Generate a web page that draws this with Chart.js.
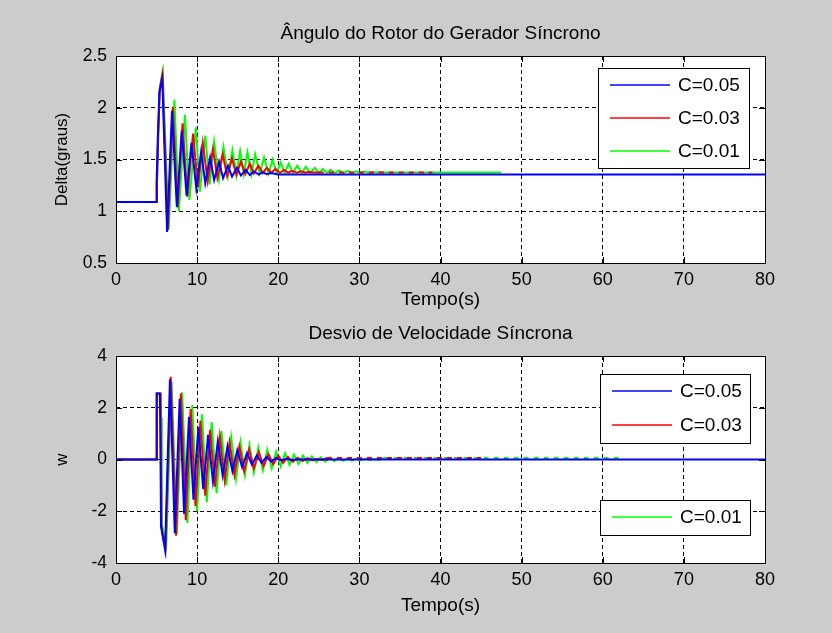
<!DOCTYPE html>
<html>
<head>
<meta charset="utf-8">
<script src="https://cdn.jsdelivr.net/npm/chart.js@4.4.1/dist/chart.umd.min.js"></script>
<style>
  html, body { margin: 0; padding: 0; background: #cccccc; }
  .panel { position: absolute; left: 0; width: 832px; }
  #topPanel { top: 0; height: 316px; }
  #botPanel { top: 316px; height: 317px; }
</style>
</head>
<body>
<div class="panel" id="topPanel"><canvas id="deltaChart" width="832" height="316"></canvas></div>
<div class="panel" id="botPanel"><canvas id="speedChart" width="832" height="317"></canvas></div>
<script>
'use strict';

/* ── Data ── */
const seriesLabels = ['C=0.05', 'C=0.03', 'C=0.01'];
const xTicks       = [0, 10, 20, 30, 40, 50, 60, 70, 80];
const deltaTicks   = [0.5, 1, 1.5, 2, 2.5];
const speedTicks   = [-4, -2, 0, 2, 4];

// Rotor angle (graus) — C=0.05
const deltaBlueT = [0, 4.95, 5.0, 5.15, 5.35, 5.7, 6.3, 6.9, 7.5, 8.1, 8.7, 9.3, 9.9, 10.5, 11.0, 11.6, 12.1, 12.7, 13.2, 13.8, 14.3, 14.9, 15.4, 16.0, 16.5, 17.0, 17.6, 18.1, 18.6, 19.1, 20.0, 80];
const deltaBlueV = [1.09, 1.09, 1.27, 1.70, 2.15, 2.28, 0.80, 1.97, 1.04, 1.78, 1.15, 1.66, 1.22, 1.58, 1.27, 1.52, 1.30, 1.48, 1.32, 1.44, 1.335, 1.42, 1.345, 1.40, 1.35, 1.385, 1.355, 1.375, 1.358, 1.37, 1.356, 1.355];

// Rotor angle — C=0.03
const deltaRedT = [0, 5.0, 5.05, 5.2, 5.4, 5.72, 6.4, 7.0, 7.6, 8.2, 8.8, 9.5, 10.1, 10.7, 11.3, 11.95, 12.5, 13.15, 13.7, 14.3, 14.85, 15.4, 15.95, 16.5, 17.0, 17.55, 18.1, 18.6, 19.15, 19.65, 20.2, 20.7, 21.25, 21.7, 22.3, 22.8, 23.3, 23.8, 24.4, 25.0, 39.0];
const deltaRedV = [1.09, 1.09, 1.27, 1.72, 2.18, 2.32, 0.82, 2.01, 1.04, 1.85, 1.14, 1.75, 1.23, 1.66, 1.29, 1.60, 1.32, 1.55, 1.34, 1.51, 1.35, 1.48, 1.36, 1.46, 1.365, 1.44, 1.37, 1.42, 1.37, 1.41, 1.37, 1.40, 1.372, 1.39, 1.373, 1.385, 1.374, 1.38, 1.375, 1.375, 1.375];

// Rotor angle — C=0.01
const deltaGreenT = [0, 5.0, 5.05, 5.2, 5.4, 5.75, 6.5, 7.2, 7.75, 8.5, 9.05, 9.85, 10.35, 11.0, 11.55, 12.1, 12.7, 13.25, 13.8, 14.35, 14.85, 15.3, 15.75, 16.2, 16.7, 17.15, 17.7, 18.25, 18.8, 19.3, 19.8, 20.3, 20.8, 21.3, 21.8, 22.35, 22.9, 23.4, 23.95, 24.5, 25.0, 25.5, 26.0, 26.45, 27.0, 27.5, 28.05, 28.6, 29.1, 29.6, 30.1, 30.6, 31.1, 31.6, 32.1, 32.6, 33.1, 47.5];
const deltaGreenV = [1.09, 1.09, 1.27, 1.72, 2.2, 2.35, 0.83, 2.08, 1.0, 1.93, 1.11, 1.81, 1.19, 1.73, 1.26, 1.67, 1.31, 1.62, 1.34, 1.59, 1.35, 1.58, 1.36, 1.57, 1.36, 1.55, 1.365, 1.52, 1.365, 1.50, 1.37, 1.47, 1.37, 1.46, 1.37, 1.44, 1.37, 1.43, 1.37, 1.42, 1.37, 1.41, 1.37, 1.40, 1.37, 1.395, 1.37, 1.39, 1.37, 1.385, 1.372, 1.383, 1.373, 1.38, 1.374, 1.378, 1.375, 1.375];

// Speed deviation w — C=0.05
const speedBlueT = [0, 4.95, 5.0, 5.4, 5.45, 5.55, 6.05, 6.65, 7.25, 7.85, 8.4, 9.0, 9.55, 10.15, 10.75, 11.35, 11.95, 12.55, 13.15, 13.75, 14.35, 14.95, 15.55, 16.15, 16.75, 17.35, 17.95, 18.55, 19.15, 19.75, 20.35, 21.0, 21.6, 22.2, 80];
const speedBlueV = [0, 0, 2.55, 2.55, 1.6, -2.6, -3.5, 3.1, -2.85, 2.35, -2.1, 1.65, -1.55, 1.25, -1.15, 0.95, -0.85, 0.7, -0.62, 0.52, -0.45, 0.36, -0.3, 0.25, -0.2, 0.16, -0.13, 0.1, -0.08, 0.06, -0.04, 0.03, -0.02, 0, 0];

// Speed deviation — C=0.03
const speedRedT = [0, 5.0, 5.05, 5.45, 5.5, 5.6, 6.1, 6.75, 7.4, 8.0, 8.6, 9.2, 9.8, 10.4, 11.0, 11.6, 12.2, 12.8, 13.4, 14.0, 14.6, 15.2, 15.8, 16.4, 17.0, 17.6, 18.2, 18.8, 19.4, 20.0, 20.6, 21.2, 21.8, 22.4, 23.0, 23.6, 24.2, 24.8, 25.4, 26.0, 45.0];
const speedRedV = [0, 0, 2.55, 2.55, 1.6, -2.6, -3.45, 3.2, -2.95, 2.55, -2.35, 1.95, -1.8, 1.5, -1.4, 1.15, -1.05, 0.88, -0.8, 0.66, -0.6, 0.5, -0.45, 0.38, -0.34, 0.28, -0.25, 0.2, -0.18, 0.15, -0.13, 0.1, -0.09, 0.07, -0.06, 0.05, -0.04, 0.03, -0.03, 0.06, 0.06];

// Speed deviation — C=0.01
const speedGreenT = [0, 5.0, 5.05, 5.5, 5.55, 5.65, 6.2, 6.85, 7.5, 8.15, 8.8, 9.4, 10.0, 10.6, 11.2, 11.8, 12.4, 13.0, 13.6, 14.2, 14.8, 15.35, 15.9, 16.45, 17.0, 17.55, 18.1, 18.65, 19.2, 19.75, 20.3, 20.85, 21.4, 21.95, 22.5, 23.05, 23.6, 24.15, 24.7, 25.25, 25.8, 26.35, 26.9, 27.45, 28.0, 28.55, 29.1, 29.65, 30.2, 30.75, 31.3, 31.85, 32.4, 33.0, 62.5];
const speedGreenV = [0, 0, 2.55, 2.55, 1.6, -2.5, -3.3, 3.0, -2.9, 2.6, -2.45, 2.1, -2.0, 1.75, -1.65, 1.45, -1.3, 1.1, -1.0, 0.85, -0.75, 0.66, -0.6, 0.55, -0.5, 0.46, -0.42, 0.38, -0.34, 0.3, -0.27, 0.24, -0.21, 0.19, -0.17, 0.15, -0.13, 0.12, -0.1, 0.09, -0.08, 0.07, -0.06, 0.055, -0.05, 0.045, -0.04, 0.035, -0.03, 0.03, -0.02, 0.02, -0.02, 0.06, 0.06];

/* ── Styling helpers ── */
const colors = ['#0000ff', '#ff0000', '#00ff00'];
const FONT = 'Liberation Sans, Arial, sans-serif';

function points(ts, vs) {
    return ts.map(function (t, i) { return { x: t, y: vs[i] }; });
}

// Settled tails look like a dotted trace in the original
function tailDash(from) {
    return { borderDash: function (ctx) { return ctx.p0.parsed.x >= from ? [5, 5] : undefined; } };
}

function dataset(i, ts, vs, tailFrom) {
    return {
        label: seriesLabels[i],
        data: points(ts, vs),
        borderColor: colors[i],
        borderWidth: 2,
        pointRadius: 0,
        tension: 0,
        fill: false,
        segment: tailFrom ? tailDash(tailFrom) : undefined
    };
}

// White plot area, box frame, inward ticks and MATLAB-style legend boxes
const matlabAxes = {
    id: 'matlabAxes',
    beforeDatasetsDraw(chart) {
        const a = chart.chartArea, c = chart.ctx;
        c.save();
        c.fillStyle = '#ffffff';
        c.fillRect(a.left, a.top, a.right - a.left, a.bottom - a.top);
        c.restore();
        // redraw grid on top of the white fill
        chart.scales.x.drawGrid(a);
        chart.scales.y.drawGrid(a);
    },
    afterDatasetsDraw(chart, args, opts) {
        const a = chart.chartArea, c = chart.ctx;
        const sx = chart.scales.x, sy = chart.scales.y;
        c.save();
        c.strokeStyle = '#000';
        c.lineWidth = 1;
        c.beginPath();
        sx.ticks.forEach(function (t) {
            const px = Math.round(sx.getPixelForValue(t.value)) + 0.5;
            c.moveTo(px, a.bottom); c.lineTo(px, a.bottom - 6);
            c.moveTo(px, a.top); c.lineTo(px, a.top + 6);
        });
        sy.ticks.forEach(function (t) {
            const py = Math.round(sy.getPixelForValue(t.value)) + 0.5;
            c.moveTo(a.left, py); c.lineTo(a.left + 6, py);
            c.moveTo(a.right, py); c.lineTo(a.right - 6, py);
        });
        c.stroke();
        c.strokeRect(Math.round(a.left) + 0.5, Math.round(a.top) + 0.5,
                     Math.round(a.right - a.left), Math.round(a.bottom - a.top));

        (opts.boxes || []).forEach(function (b) {
            c.fillStyle = '#ffffff';
            c.fillRect(b.x, b.y, b.w, b.h);
            c.strokeStyle = '#000';
            c.lineWidth = 1;
            c.strokeRect(b.x + 0.5, b.y + 0.5, b.w, b.h);
            b.items.forEach(function (idx, k) {
                const ry = b.rows[k];
                c.strokeStyle = colors[idx];
                c.lineWidth = 1.5;
                c.beginPath();
                c.moveTo(b.x + 12, ry); c.lineTo(b.x + 72, ry);
                c.stroke();
                c.fillStyle = '#000';
                c.font = '19px ' + FONT;
                c.textBaseline = 'middle';
                c.textAlign = 'left';
                c.fillText(seriesLabels[idx], b.x + 80, ry + 1);
            });
        });
        c.restore();
    }
};

function makeChart(canvasId, cfg) {
    const canvas = document.getElementById(canvasId);
    const H = canvas.height;
    return new Chart(canvas, {
        type: 'line',
        data: { datasets: cfg.datasets },
        options: {
            responsive: false,
            devicePixelRatio: 1,
            animation: false,
            layout: { padding: { left: 0, right: 67, top: 0, bottom: 0 }, autoPadding: false },
            plugins: {
                legend: { display: false },
                tooltip: { enabled: false },
                title: {
                    display: true,
                    fullSize: false,
                    text: cfg.title,
                    color: '#000',
                    font: { family: FONT, size: 19, weight: 'normal', lineHeight: 1.2 },
                    padding: { top: cfg.titlePadTop, bottom: cfg.titlePadBottom }
                },
                matlabAxes: { boxes: cfg.boxes }
            },
            scales: {
                x: {
                    type: 'linear',
                    min: 0, max: 80,
                    afterBuildTicks: function (s) { s.ticks = xTicks.map(function (v) { return { value: v }; }); },
                    afterFit: function (s) { s.height = H - cfg.plotBottom; },
                    grid: { color: '#000', lineWidth: 1, drawTicks: false },
                    border: { display: false, dash: [4, 3] },
                    ticks: {
                        color: '#000', font: { family: FONT, size: 18 }, padding: 6, maxRotation: 0,
                        callback: function (v) { return String(v); }
                    },
                    title: {
                        display: true, text: 'Tempo(s)', color: '#000',
                        font: { family: FONT, size: 19, lineHeight: 1.2 },
                        padding: { top: 0, bottom: cfg.xTitlePadBottom }
                    }
                },
                y: {
                    min: cfg.yMin, max: cfg.yMax,
                    afterBuildTicks: function (s) { s.ticks = cfg.yTicks.map(function (v) { return { value: v }; }); },
                    afterFit: function (s) { s.width = 116; },
                    grid: { color: '#000', lineWidth: 1, drawTicks: false },
                    border: { display: false, dash: [4, 3] },
                    ticks: {
                        color: '#000', font: { family: FONT, size: 17.5 }, padding: 9,
                        callback: function (v) { return String(v); }
                    },
                    title: {
                        display: true, text: cfg.yTitle, color: '#000',
                        font: { family: FONT, size: 17, lineHeight: 1.2 },
                        padding: { top: 52, bottom: 0 }
                    }
                }
            }
        },
        plugins: [matlabAxes]
    });
}

makeChart('deltaChart', {
    title: 'Ângulo do Rotor do Gerador Síncrono',
    titlePadTop: 22, titlePadBottom: 11.2,
    plotBottom: 263,
    xTitlePadBottom: 5,
    yMin: 0.5, yMax: 2.5, yTicks: deltaTicks,
    yTitle: 'Delta(graus)',
    boxes: [{ x: 598, y: 68, w: 151, h: 100, items: [0, 1, 2], rows: [85, 118, 151] }],
    datasets: [
        dataset(0, deltaBlueT, deltaBlueV),
        dataset(1, deltaRedT, deltaRedV, 25),
        dataset(2, deltaGreenT, deltaGreenV)
    ]
});

makeChart('speedChart', {
    title: 'Desvio de Velocidade Síncrona',
    titlePadTop: 6, titlePadBottom: 11.2,
    plotBottom: 247,
    xTitlePadBottom: 16,
    yMin: -4, yMax: 4, yTicks: speedTicks,
    yTitle: 'w',
    boxes: [
        { x: 600, y: 58, w: 150, h: 69, items: [0, 1], rows: [75, 109] },
        { x: 600, y: 184, w: 150, h: 35, items: [2], rows: [201] }
    ],
    datasets: [
        dataset(0, speedBlueT, speedBlueV),
        dataset(1, speedRedT, speedRedV, 26),
        dataset(2, speedGreenT, speedGreenV, 33)
    ]
});
</script>
</body>
</html>
